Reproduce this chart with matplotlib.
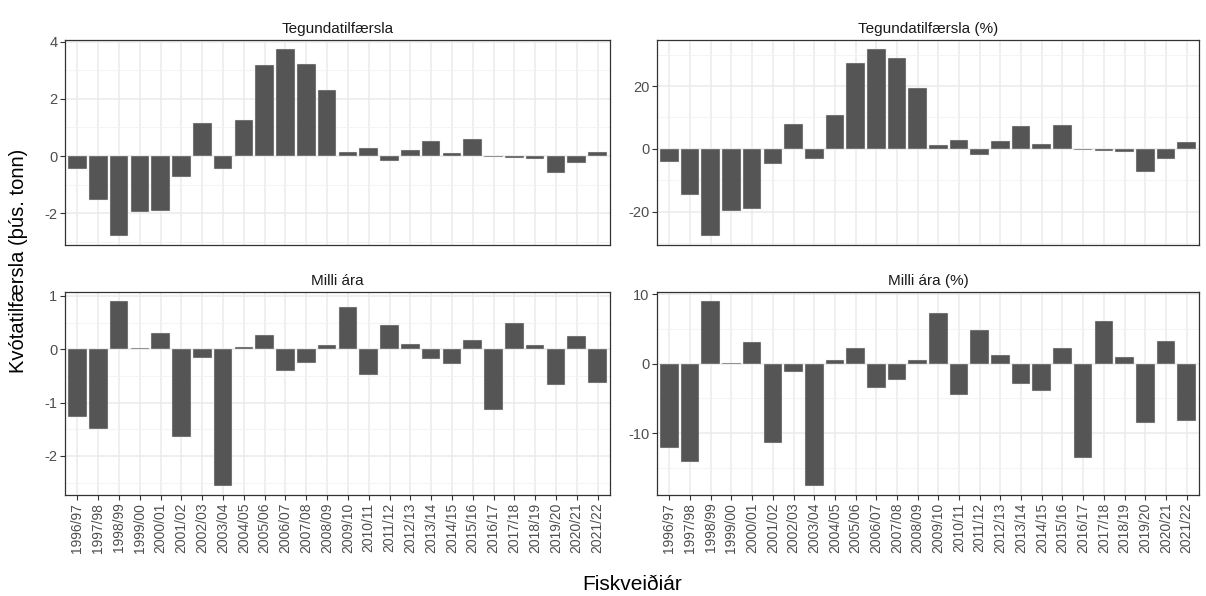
import matplotlib
matplotlib.use("Agg")
import matplotlib.pyplot as plt
import numpy as np

plt.rcParams['font.family'] = ['Liberation Sans', 'DejaVu Sans']

seasons = ["1996/97", "1997/98", "1998/99", "1999/00", "2000/01", "2001/02", "2002/03",
           "2003/04", "2004/05", "2005/06", "2006/07", "2007/08", "2008/09", "2009/10",
           "2010/11", "2011/12", "2012/13", "2013/14", "2014/15", "2015/16", "2016/17",
           "2017/18", "2018/19", "2019/20", "2020/21", "2021/22"]

tegund = [-0.46, -1.53, -2.78, -1.97, -1.91, -0.73, 1.16, -0.46, 1.27, 3.19, 3.73, 3.23, 2.32,
          0.14, 0.30, -0.18, 0.20, 0.52, 0.10, 0.60, -0.02, -0.05, -0.09, -0.60, -0.23, 0.16]
tegund_pct = [-4.3, -14.6, -27.7, -19.9, -19.3, -4.9, 8.0, -3.2, 10.9, 27.2, 31.7, 28.8, 19.4,
              1.3, 2.8, -1.9, 2.5, 7.4, 1.5, 7.7, -0.3, -0.7, -1.1, -7.5, -3.1, 2.2]
milli = [-1.27, -1.49, 0.90, 0.02, 0.30, -1.64, -0.17, -2.56, 0.05, 0.26, -0.40, -0.25, 0.07,
         0.79, -0.49, 0.46, 0.10, -0.19, -0.28, 0.18, -1.13, 0.50, 0.07, -0.67, 0.24, -0.63]
milli_pct = [-12.1, -14.2, 9.0, 0.15, 3.1, -11.5, -1.2, -17.6, 0.5, 2.3, -3.5, -2.3, 0.6,
             7.3, -4.5, 4.9, 1.3, -2.9, -3.9, 2.2, -13.6, 6.1, 0.9, -8.5, 3.2, -8.3]

titles = ["Tegundatilfærsla", "Tegundatilfærsla (%)", "Milli ára", "Milli ára (%)"]
series = [tegund, tegund_pct, milli, milli_pct]
yticks = [[-2, 0, 2, 4], [-20, 0, 20], [-2, -1, 0, 1], [-10, 0, 10]]
yminor = [[-3, -1, 1, 3], [-30, -10, 10, 30], [-2.5, -1.5, -0.5, 0.5], [-15, -5, 5]]

W, H = 1206, 596
fig = plt.figure(figsize=(W / 100, H / 100), dpi=100)

# panel boxes in pixels: left, top, right, bottom
boxes = [(65, 40, 610, 245), (657, 40, 1199, 245),
         (65, 292, 610, 495), (657, 292, 1199, 495)]

x = np.arange(len(seasons))
for i, (vals, title, box) in enumerate(zip(series, titles, boxes)):
    l, t, r, b = box
    ax = fig.add_axes([l / W, 1 - b / H, (r - l) / W, (b - t) / H])
    vals = np.array(vals)
    lo, hi = min(vals.min(), 0), max(vals.max(), 0)
    pad = (hi - lo) * 0.05
    ax.set_ylim(lo - pad, hi + pad)
    ax.set_xlim(-0.6, len(seasons) - 0.4)
    ax.set_axisbelow(True)
    for xv in x:
        ax.axvline(xv, color="#ebebeb", lw=1.1, zorder=0)
    for yv in yticks[i]:
        ax.axhline(yv, color="#ebebeb", lw=1.1, zorder=0)
    for yv in yminor[i]:
        ax.axhline(yv, color="#f3f3f3", lw=0.6, zorder=0)
    ax.bar(x, vals, width=0.9, color="#555555", edgecolor="#e8e8e8", linewidth=0.3, zorder=2)
    ax.set_yticks(yticks[i])
    ax.set_yticklabels([str(v) for v in yticks[i]], fontsize=10.5, color="#4d4d4d")
    ax.set_xticks(x)
    ax.tick_params(axis='both', direction='out', length=3.5, width=0.8, color="#333333", pad=2)
    if i >= 2:
        ax.set_xticklabels(seasons, rotation=90, fontsize=10, color="#4d4d4d")
    else:
        ax.set_xticklabels([])
        ax.tick_params(axis='x', length=0)
    for s in ax.spines.values():
        s.set_color("#333333")
        s.set_linewidth(0.9)
    ax.set_title(title, fontsize=11, color="#1a1a1a", pad=5)

fig.text(19 / W, 1 - 261 / H, "Kvótatilfærsla (þús. tonn)", rotation=90, fontsize=14.5,
         ha='center', va='center', color="black")
fig.text(632 / W, 1 - 584 / H, "Fiskveiðiár", fontsize=15, ha='center', va='center',
         color="black")

fig.savefig("out.png", dpi=100, facecolor="white")
